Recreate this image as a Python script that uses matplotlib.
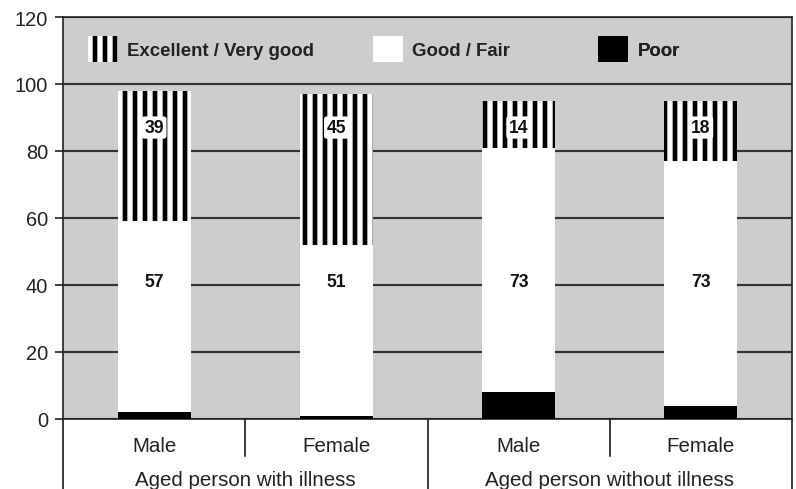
import matplotlib
matplotlib.use("Agg")
import matplotlib.pyplot as plt
from matplotlib.patches import Patch

# values (percent)
groups = ["Aged person with illness", "Aged person without illness"]
sexes = ["Male", "Female", "Male", "Female"]
poor = [2, 1, 8, 4]
good = [57, 51, 73, 73]
excellent = [39, 45, 14, 18]
legend_labels = ["Excellent / Very good", "Good / Fair", "Poor"]

plt.rcParams["font.family"] = ["Liberation Sans", "DejaVu Sans"]
plt.rcParams["hatch.linewidth"] = 2.8
plt.rcParams["hatch.color"] = "black"

DPI = 120
fig = plt.figure(figsize=(796 / DPI, 490 / DPI), dpi=DPI)
ax = fig.add_axes([63 / 796, 70 / 490, 729 / 796, 402 / 490])

x = list(range(len(sexes)))
width = 0.4
mid = [p + g for p, g in zip(poor, good)]

ax.bar(x, poor, width, color="black", linewidth=0, zorder=3)
ax.bar(x, good, width, bottom=poor, color="white", linewidth=0, zorder=3)
ax.bar(x, excellent, width, bottom=mid, color="white", edgecolor="black",
       hatch="||", linewidth=0, zorder=3)

for i in x:
    ax.text(i, 41, str(good[i]), ha="center", va="center", fontsize=10.5,
            fontweight="bold", color="#111111", zorder=4)
    ax.text(i, 87, str(excellent[i]), ha="center", va="center", fontsize=10.5,
            fontweight="bold", color="#111111", zorder=4,
            bbox=dict(boxstyle="round,pad=0.15", fc="white", ec="none"))

ax.set_xlim(-0.5, 3.5)
ax.set_ylim(0, 120)
ax.set_yticks(range(0, 121, 20))
ax.set_xticks([])
ax.set_facecolor("#cdcdcd")
ax.grid(axis="y", color="#333333", linewidth=1.3)
ax.set_axisbelow(True)
for s in ax.spines.values():
    s.set_color("#222222")
    s.set_linewidth(1.0)
ax.tick_params(axis="y", length=5, width=1, labelsize=12, colors="#222222", pad=4)

# table-like category axis under the plot
tr = ax.get_xaxis_transform()
for xv in [-0.5, 1.5, 3.5]:
    ax.plot([xv, xv], [0, -0.18], color="black", lw=0.9, transform=tr, clip_on=False)
for xv in [0.5, 2.5]:
    ax.plot([xv, xv], [0, -0.092], color="black", lw=0.9, transform=tr, clip_on=False)
for i, s in enumerate(sexes):
    ax.text(i, -0.066, s, ha="center", va="center", fontsize=12.3,
            color="#222222", transform=tr)
for j, g in enumerate(groups):
    ax.text(2 * j + 0.5, -0.164, g, ha="center", va="baseline", fontsize=12.3,
            color="#222222", transform=tr)

# legend in the top band
handles = [
    Patch(facecolor="white", edgecolor="black", hatch="||", linewidth=0),
    Patch(facecolor="white", linewidth=0),
    Patch(facecolor="black", linewidth=0),
]
anchors = [0.034, 0.425, 0.734]
for h, lab, a in zip(handles, legend_labels, anchors):
    leg = ax.legend([h], [lab], loc="center left", bbox_to_anchor=(a, 0.92),
                    frameon=False, borderpad=0, borderaxespad=0,
                    handlelength=1.6, handleheight=1.75, handletextpad=0.5,
                    prop={"weight": "bold", "size": 11.2})
    for t in leg.get_texts():
        t.set_color("#222222")
    ax.add_artist(leg)

fig.savefig("out.png", dpi=DPI)
